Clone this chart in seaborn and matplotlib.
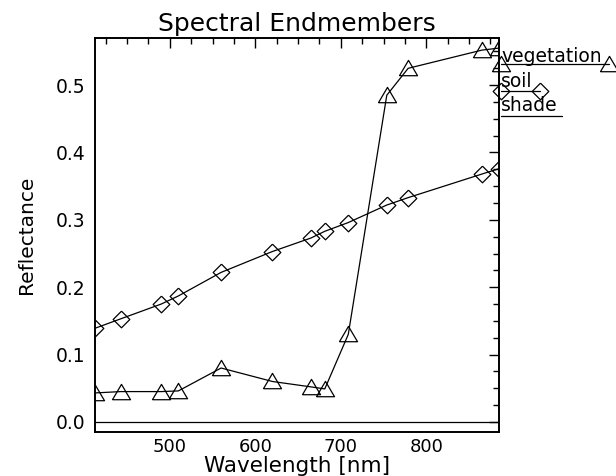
import numpy as np
import pandas as pd
import matplotlib
matplotlib.use("Agg")
import matplotlib.pyplot as plt
from matplotlib.lines import Line2D
from matplotlib.legend_handler import HandlerBase
from matplotlib.ticker import MultipleLocator
import seaborn as sns

# ---------------- data ----------------
wavelength = [412.5, 442.5, 490.0, 510.0, 560.0, 620.0, 665.0, 681.25, 708.75, 753.75, 778.75, 865.0, 885.0]
vegetation = [0.043, 0.045, 0.045, 0.046, 0.080, 0.060, 0.052, 0.049, 0.130, 0.485, 0.525, 0.552, 0.555]
soil = [0.139, 0.153, 0.175, 0.187, 0.222, 0.253, 0.273, 0.283, 0.296, 0.322, 0.333, 0.368, 0.376]
shade = [0.0, 0.0, 0.0, 0.0, 0.0, 0.0, 0.0, 0.0, 0.0, 0.0, 0.0, 0.0, 0.0]
series_names = ["vegetation", "soil", "shade"]
x_ticks = [500, 600, 700, 800]
y_ticks = [0.0, 0.1, 0.2, 0.3, 0.4, 0.5]
y_tick_labels = ["0.0", "0.1", "0.2", "0.3", "0.4", "0.5"]

sns.set_style("white")
plt.rcParams["font.family"] = ["DejaVu Sans"]
plt.rcParams["text.color"] = "black"
plt.rcParams["axes.labelcolor"] = "black"
plt.rcParams["xtick.color"] = "black"
plt.rcParams["ytick.color"] = "black"

fig = plt.figure(figsize=(6.16, 4.76), dpi=100)
ax = fig.add_axes([95 / 616, 44 / 476, 404 / 616, 394 / 476])

tri = [(-1.0, -0.8), (1.0, -0.8), (0.0, 0.9), (-1.0, -0.8)]
dia = [(0.0, 1.0), (1.0, 0.0), (0.0, -1.0), (-1.0, 0.0), (0.0, 1.0)]

common = dict(color="black", linewidth=0.9, markerfacecolor="none",
              markeredgecolor="black", markeredgewidth=0.9, ax=ax)
sns.lineplot(x=wavelength, y=vegetation, marker=tri, markersize=13,
             label=series_names[0], **common)
sns.lineplot(x=wavelength, y=soil, marker=dia, markersize=12,
             label=series_names[1], **common)
sns.lineplot(x=wavelength, y=shade, label=series_names[2], **common)

ax.set_xlim(412.5, 885)
ax.set_ylim(-0.015, 0.57)
ax.set_xticks(x_ticks)
ax.set_yticks(y_ticks)
ax.set_yticklabels(y_tick_labels)
ax.xaxis.set_minor_locator(MultipleLocator(25))
ax.yaxis.set_minor_locator(MultipleLocator(0.025))
ax.tick_params(which="both", direction="in", top=True, right=True,
               width=1.0, color="black")
ax.tick_params(which="major", length=7)
ax.tick_params(which="minor", length=4)
ax.tick_params(axis="x", which="major", labelsize=13, pad=4, labelcolor="black")
ax.tick_params(axis="y", which="major", labelsize=13.5, pad=7, labelcolor="black")
for s in ax.spines.values():
    s.set_linewidth(1.4)
    s.set_color("black")

ax.set_title("Spectral Endmembers", fontsize=18, pad=5, color="black")
ax.set_xlabel("Wavelength [nm]", fontsize=15.5, labelpad=0, color="black")
ax.set_ylabel("Reflectance", fontsize=14.5, labelpad=14, color="black")


class UnderHandler(HandlerBase):
    def __init__(self, length, drop):
        super().__init__()
        self.length = length
        self.drop = drop

    def create_artists(self, legend, orig_handle, xdescent, ydescent,
                       width, height, fontsize, trans):
        x0 = -xdescent
        xs = [x0, x0 + self.length]
        ys = [-self.drop, -self.drop]
        ln = Line2D(xs, ys, color="black", linewidth=orig_handle.get_linewidth())
        ln.set_transform(trans)
        arts = [ln]
        mk = orig_handle.get_marker()
        if mk not in (None, "None", "none", ""):
            m = Line2D(xs, ys, linestyle="none", marker=mk,
                       markersize=orig_handle.get_markersize(),
                       markerfacecolor="none", markeredgecolor="black",
                       markeredgewidth=orig_handle.get_markeredgewidth())
            m.set_transform(trans)
            arts.append(m)
        return arts


lines = ax.get_lines()[:3]
hmap = {lines[0]: UnderHandler(78, 1.5), lines[1]: UnderHandler(28, 3),
        lines[2]: UnderHandler(44, 3.5)}
ax.legend(handles=lines, labels=series_names, handler_map=hmap,
          loc="upper left", bbox_to_anchor=(1.005, 0.977), frameon=False,
          handlelength=0, handletextpad=0, borderpad=0, borderaxespad=0,
          labelspacing=0.3, fontsize=13.5, labelcolor="black")

fig.savefig("out.png", dpi=100)
